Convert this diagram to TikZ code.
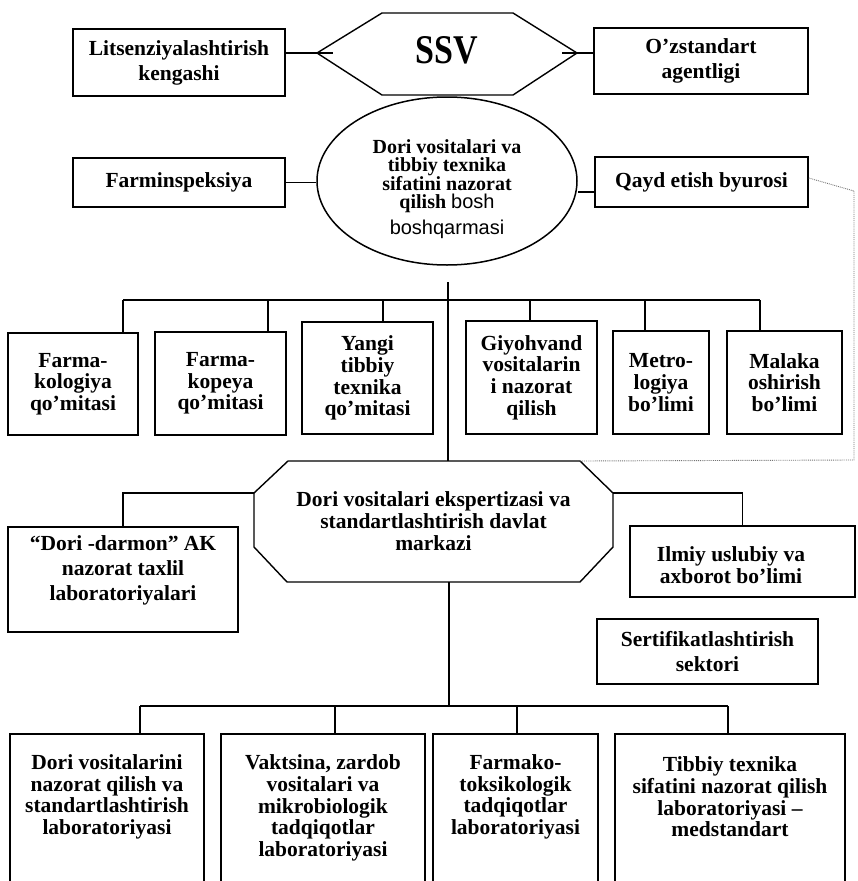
\documentclass[tikz,border=0pt]{standalone}
\usepackage{graphicx}
\usepackage{fontspec}
\setmainfont{Liberation Serif}
\newfontfamily\mysansf{Liberation Sans}
\usetikzlibrary{shapes.geometric}
\newcommand\myfA{\fontsize{21.5}{21.7}\selectfont\bfseries}
\newcommand\myfB{\fontsize{21.5}{25}\selectfont\bfseries}
\begin{document}
\begin{tikzpicture}[x=1pt,y=-1pt,
  box/.style={draw, line width=1.5pt, rectangle, inner sep=0pt, align=center, font=\myfA},
  boxw/.style={box, font=\myfB},
  txt/.style={align=center, inner sep=0pt, font=\myfA},
  ln/.style={line width=1.4pt},
  dotln/.style={densely dotted, line width=0.9pt, black!55}
]
\useasboundingbox (0,0) rectangle (857,881);
\clip (0,0) rectangle (857,881);

% ---- SSV hexagon
\coordinate (hL) at (317,53);
\coordinate (hR) at (577,53);
\draw[ln] (hL) -- (382,13) -- (513,13) -- (hR) -- (513,95) -- (382,95) -- cycle;
\node[font=\fontsize{34}{34}\selectfont\bfseries, inner sep=0pt] (ssv) at (447,50) {\scalebox{1}[1.2]{SSV}};

\node[boxw, minimum width=212, minimum height=67] (lits) at (179,62.5) {Litsenziyalashtirish\\kengashi};
\node[boxw, minimum width=214, minimum height=66] (ozst) at (701,61) {O’zstandart\\agentligi};
\draw[ln] (lits.east |- hL) -- ([xshift=16pt]hL);
\draw[ln] ([xshift=-15pt]hR) -- (hR -| ozst.west);

% ---- ellipse
\node[draw, ellipse, line width=1.5pt, minimum width=260, minimum height=168, inner sep=0pt] (ell) at (447,181) {};
\node[align=center, inner sep=0pt, font=\fontsize{20}{18.5}\selectfont\bfseries] (elltxt) at (447,189)
  {Dori vositalari va\\tibbiy texnika\\sifatini nazorat\\qilish {\mysansf\mdseries\fontsize{20}{18.5}\selectfont bosh}\\[6pt]{\mysansf\mdseries\fontsize{20}{18.5}\selectfont boshqarmasi}};

\node[box, minimum width=212, minimum height=49] (farm) at (179,182.5) {Farminspeksiya};
\node[box, minimum width=213, minimum height=50] (qayd) at (701.5,182) {Qayd etish byurosi};
\draw[ln] (farm.east) -- (farm.east -| ell.west);
\coordinate (qj) at ([yshift=-10pt]qayd.west);
\draw[ln] (qj) -- (qj -| ell.east);

% ---- octagon
\coordinate (oTL) at (288,461);
\coordinate (oTR) at (580,461);
\coordinate (oRT) at (613,493);
\coordinate (oRB) at (613,547);
\coordinate (oBR) at (580,582);
\coordinate (oBL) at (287,582);
\coordinate (oLB) at (254,547);
\coordinate (oLT) at (254,493);
\draw[ln] (oTL) -- (oTR) -- (oRT) -- (oRB) -- (oBR) -- (oBL) -- (oLB) -- (oLT) -- cycle;
\node[align=center, inner sep=0pt, font=\fontsize{21.5}{22}\selectfont\bfseries] (octtxt) at (433.5,521)
  {Dori vositalari ekspertizasi va\\standartlashtirish davlat\\markazi};

% ---- dotted link
\coordinate (dA) at (854,191);
\coordinate (dB) at (854,460);
\draw[dotln] ([yshift=4pt]qayd.east) -- (dA) -- (dB) -- (oTR);

% ---- main vertical
\coordinate (v0) at (448,282);
\draw[ln] (v0) -- (v0 |- oTL);

% ---- row 2
\node[box, minimum width=130, minimum height=102] (fk) at (73,384) {Farma-\\kologiya\\qo’mitasi};
\node[box, minimum width=131, minimum height=103] (fp) at (220.5,383.5) {Farma-\\kopeya\\qo’mitasi};
\node[box, minimum width=131, minimum height=112] (yt) at (367.5,378) {Yangi\\tibbiy\\texnika\\qo’mitasi};
\node[box, minimum width=131, minimum height=113] (gv) at (531.5,377.5) {Giyohvand\\vositalarin\\i nazorat\\qilish};
\node[box, minimum width=96, minimum height=103] (mt) at (661,382.5) {Metro-\\logiya\\bo’limi};
\node[box, minimum width=115, minimum height=103] (mk) at (784.5,382.5) {Malaka\\oshirish\\bo’limi};

\coordinate (j1) at (123,300);
\coordinate (j2) at (268,300);
\coordinate (j3) at (383,300);
\coordinate (j4) at (530,300);
\coordinate (j5) at (645,300);
\coordinate (j6) at (760,300);
\draw[ln] (j1) -- (j6);
\draw[ln] (j1) -- (j1 |- fk.north);
\draw[ln] (j2) -- (j2 |- fp.north);
\draw[ln] (j3) -- (j3 |- yt.north);
\draw[ln] (j4) -- (j4 |- gv.north);
\draw[ln] (j5) -- (j5 |- mt.north);
\draw[ln] (j6) -- (j6 |- mk.north);

% ---- side boxes of the centre
\node[box, minimum width=230, minimum height=105] (dd) at (123,579.5) {};
\node[txt, font=\myfB] (ddt) at (123,570) {“Dori -darmon” AK\\nazorat taxlil\\laboratoriyalari};
\draw[ln] (dd.north) |- (oLT);

\node[box, minimum width=225, minimum height=71] (ilm) at (742.5,561.5) {};
\node[txt] (ilmt) at (731,565) {Ilmiy uslubiy va\\axborot bo’limi};
\draw[ln] (oRT) -| (ilm.north);

\node[boxw, minimum width=221, minimum height=65] (sert) at (707.5,651.5) {Sertifikatlashtirish\\sektori};

% ---- bottom row
\coordinate (v1) at (449,582);
\coordinate (k1) at (140,706);
\coordinate (k2) at (335,706);
\coordinate (k3) at (517,706);
\coordinate (k4) at (728,706);
\draw[ln] (v1) -- (v1 |- k1);
\draw[ln] (k1) -- (k4);

\node[box, anchor=north, minimum width=194, minimum height=200] (b1) at (107,733) {};
\node[box, anchor=north, minimum width=204, minimum height=200] (b2) at (323,733) {};
\node[box, anchor=north, minimum width=165, minimum height=200] (b3) at (515.5,733) {};
\node[box, anchor=north, minimum width=230, minimum height=200] (b4) at (730,733) {};
\draw[ln] (k1) -- (k1 |- b1.north);
\draw[ln] (k2) -- (k2 |- b2.north);
\draw[ln] (k3) -- (k3 |- b3.north);
\draw[ln] (k4) -- (k4 |- b4.north);

\node[txt] (b1t) at (107,797) {Dori vositalarini\\nazorat qilish va\\standartlashtirish\\laboratoriyasi};
\node[txt] (b2t) at (323,808) {Vaktsina, zardob\\vositalari va\\mikrobiologik\\tadqiqotlar\\laboratoriyasi};
\node[txt] (b3t) at (515.5,797) {Farmako-\\toksikologik\\tadqiqotlar\\laboratoriyasi};
\node[txt] (b4t) at (730,797) {Tibbiy texnika\\sifatini nazorat qilish\\laboratoriyasi –\\medstandart};
\end{tikzpicture}
\end{document}
